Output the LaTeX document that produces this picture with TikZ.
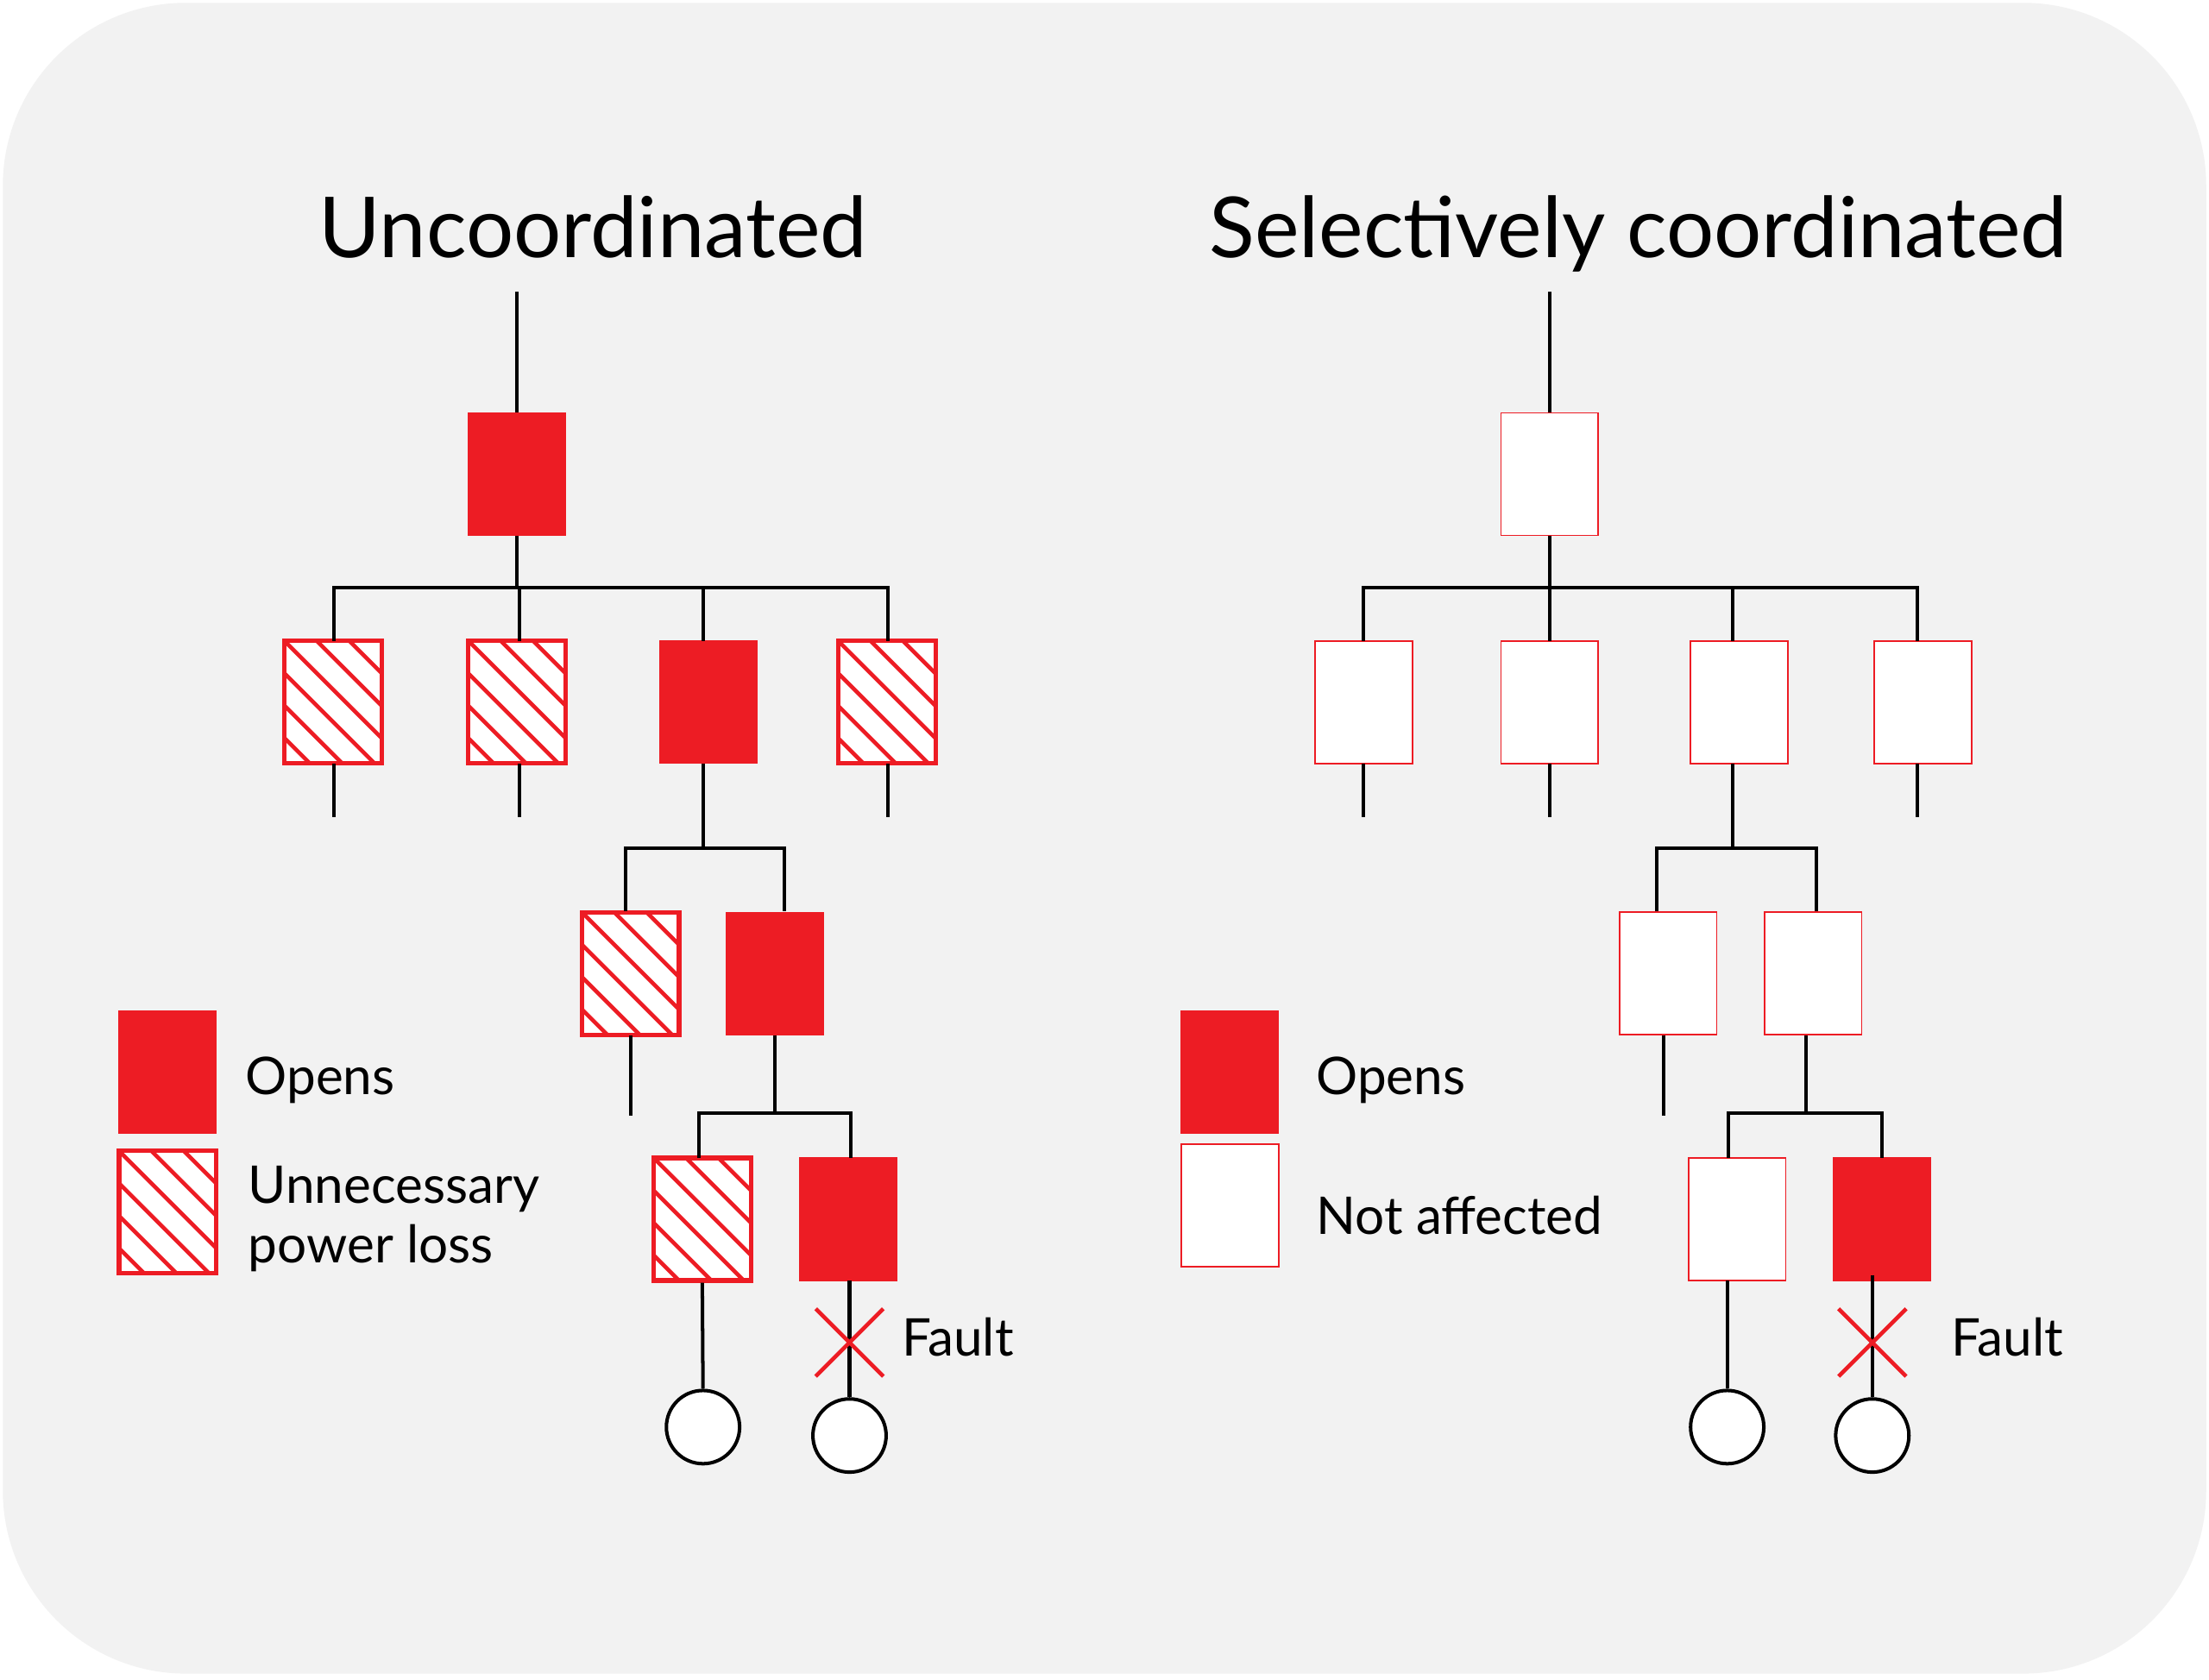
\documentclass[tikz,border=0pt]{standalone}
\usepackage{fontspec}
\setmainfont{Lato}
\definecolor{fred}{HTML}{ED1C24}
\definecolor{bg}{HTML}{F2F2F2}
\begin{document}
\begin{tikzpicture}[x=0.02cm,y=-0.02cm,
  box/.style={draw=fred,minimum width=1.38cm,minimum height=1.74cm,inner sep=0pt},
  sol/.style={box,fill=fred,draw=fred},
  wht/.style={box,fill=white,line width=0.6pt},
  hat/.style={box,fill=white,line width=1.8pt,path picture={
     \foreach \k in {-4,...,3}{\draw[fred,line width=1.6pt]([xshift=\k*0.46cm]path picture bounding box.north west) -- ++(1.9cm,-1.9cm);}}},
  ln/.style={line width=1.4pt,black},
  load/.style={circle,draw=black,fill=white,line width=1.4pt,minimum size=1.04cm,inner sep=0pt},
  ttl/.style={font=\fontsize{34}{40}\selectfont,anchor=base,inner sep=0pt},
  lbl/.style={font=\fontsize{21}{26}\selectfont,anchor=west,inner sep=0pt,align=left},
  xm/.style={fred,line width=1.6pt}]
\useasboundingbox (0,0) rectangle (1568,1192);
\fill[white] (0,0) rectangle (1568,1192);
\fill[bg,rounded corners=2.6cm] (2,2) rectangle (1566,1188);

% ---------- left ----------
\node[ttl] (t1) at (421,183) {Uncoordinated};
\coordinate (s1) at (367,207);
\node[sol] (a) at (367,336.5) {};
\draw[ln] (s1) -- (a.north);
\draw[ln] (a.south) -- (367,417);
\node[hat] (l1) at (236.5,498.5) {};
\node[hat] (l2) at (367,498.5) {};
\node[sol] (l3) at (503,498.5) {};
\node[hat] (l4) at (629.5,498.5) {};
\draw[ln] (237,455) -- (237,417) -- (630,417) -- (630,455);
\draw[ln] (369,417) -- (369,455);
\draw[ln] (499,417) -- (499,455);
\foreach \x in {237,369,630}{\draw[ln] (\x,542) -- (\x,580);}
\draw[ln] (499,542) -- (499,602);
\node[hat] (m1) at (447.5,691) {};
\node[sol] (m2) at (550,691) {};
\draw[ln] (444,647) -- (444,602) -- (557,602) -- (557,647);
\draw[ln] (448,735) -- (448,792);
\draw[ln] (550,735) -- (550,790);
\node[hat] (n1) at (498.5,865.5) {};
\node[sol] (n2) at (602,865.5) {};
\draw[ln] (496,822) -- (496,790) -- (604,790) -- (604,822);
\node[load] (c1) at (499,1013) {};
\node[load] (c2) at (603,1019) {};
\draw[ln] (n1.south) -- (c1.north);
\draw[ln] (603,909) -- (c2.north);
\draw[xm] (579,929) -- (627,977) (627,929) -- (579,977);
\node[lbl] (f1) at (640,949) {Fault};
\node[sol] (k1) at (119,761) {};
\node[lbl] (k1t) at (174,767) {Opens};
\node[hat] (k2) at (119,860.5) {};
\node[lbl] (k2t) at (176,865) {Unnecessary\\[-2pt]power loss};

% ---------- right ----------
\node[ttl] (t2) at (1163,183) {Selectively coordinated};
\coordinate (s2) at (1100,207);
\node[wht] (A) at (1100,336.5) {};
\draw[ln] (s2) -- (A.north);
\draw[ln] (A.south) -- (1100,417);
\node[wht] (L1) at (968,498.5) {};
\node[wht] (L2) at (1100,498.5) {};
\node[wht] (L3) at (1234.5,498.5) {};
\node[wht] (L4) at (1365,498.5) {};
\draw[ln] (968,455) -- (968,417) -- (1361,417) -- (1361,455);
\draw[ln] (1100,417) -- (1100,455);
\draw[ln] (1230,417) -- (1230,455);
\foreach \x in {968,1100,1361}{\draw[ln] (\x,542) -- (\x,580);}
\draw[ln] (1230,542) -- (1230,602);
\node[wht] (M1) at (1184,691) {};
\node[wht] (M2) at (1287,691) {};
\draw[ln] (1176,647) -- (1176,602) -- (1289,602) -- (1289,647);
\draw[ln] (1181,735) -- (1181,792);
\draw[ln] (1282,735) -- (1282,790);
\node[wht] (N1) at (1233,865.5) {};
\node[sol] (N2) at (1336,865.5) {};
\draw[ln] (1227,822) -- (1227,790) -- (1336,790) -- (1336,822);
\node[load] (C1) at (1226,1013) {};
\node[load] (C2) at (1329,1019) {};
\draw[ln] (1226,909) -- (C1.north);
\draw[ln] (1329,905) -- (C2.north);
\draw[xm] (1305,929) -- (1353,977) (1353,929) -- (1305,977);
\node[lbl] (F2) at (1385,949) {Fault};
\node[sol] (K1) at (873,761) {};
\node[lbl] (K1t) at (934,767) {Opens};
\node[wht] (K2) at (873,855.5) {};
\node[lbl] (K2t) at (934,863) {Not affected};
\end{tikzpicture}
\end{document}
